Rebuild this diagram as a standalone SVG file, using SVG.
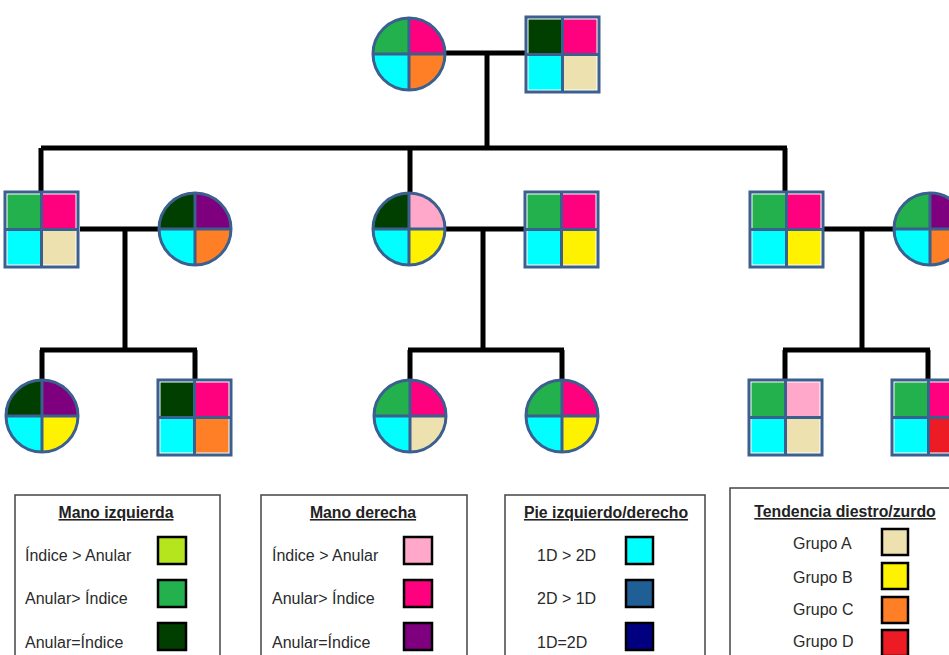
<svg xmlns="http://www.w3.org/2000/svg" width="949" height="655" viewBox="0 0 949 655">
<style>
.ln{stroke:#000;stroke-width:5;fill:none;stroke-linecap:butt}
.ob{fill:none;stroke:#3B5F8E;stroke-width:3}
.gap{stroke:#fff;stroke-width:1}
.gr{fill:#22B14C}.pk{fill:#FF007F}.cy{fill:#00FFFF}.bg{fill:#EEE1B0}.dg{fill:#003F00}.pu{fill:#7F007F}.or{fill:#FF7F27}.ye{fill:#FFF200}.lp{fill:#FFA8C9}.rd{fill:#ED1C24}.li{fill:#B5E61D}.sb{fill:#1F5F95}.nv{fill:#000080}
.box{fill:#fff;stroke:#444;stroke-width:1.5}
.sw{stroke:#000;stroke-width:2.5}
.tt{font-family:"Liberation Sans",Arial,sans-serif;font-size:15.8px;font-weight:bold;fill:#222;text-anchor:middle;text-decoration:underline}
.tx{font-family:"Liberation Sans",Arial,sans-serif;font-size:16px;fill:#2a2a2a}
</style>
<rect width="949" height="655" fill="#fff"/>
<g id="connectors">
<path class="ln" d="M445,53H526M487,53V148M41,148H787M41,148V192M410,148V192M785,148V192"/>
<path class="ln" d="M80,229H158M125,229V350M40,350H197M42,350V380M195,350V380"/>
<path class="ln" d="M445,229H525M483,229V350M408,350H564M410,350V380M562,350V380"/>
<path class="ln" d="M822,229H893M862,229V350M783,350H930M785,350V380M928,350V380"/>
</g>
<g id="n-top-f" transform="translate(409,54)">
<path class="gr gap" d="M0,0V-36A36,36 0 0 0 -36,0Z"/><path class="pk gap" d="M0,0V-36A36,36 0 0 1 36,0Z"/><path class="cy gap" d="M0,0H-36A36,36 0 0 0 0,36Z"/><path class="or gap" d="M0,0H36A36,36 0 0 1 0,36Z"/>
<path class="ob" d="M-36,0H36M0,-36V36"/><circle class="ob" r="36"/>
</g>
<g id="n-top-m" transform="translate(526,17)">
<rect class="dg gap" x="2" y="2" width="34" height="35"/><rect class="pk gap" x="37" y="2" width="34" height="35"/><rect class="cy gap" x="2" y="38" width="34" height="35"/><rect class="bg gap" x="37" y="38" width="34" height="35"/>
<path class="ob" d="M36.5,0V75M0,37.5H73"/><rect class="ob" x="0" y="0" width="73" height="75"/>
</g>
<g id="n-r2-1" transform="translate(5,192)">
<rect class="gr gap" x="2" y="2" width="34" height="35"/><rect class="pk gap" x="37" y="2" width="34" height="35"/><rect class="cy gap" x="2" y="38" width="34" height="35"/><rect class="bg gap" x="37" y="38" width="34" height="35"/>
<path class="ob" d="M36.5,0V75M0,37.5H73"/><rect class="ob" x="0" y="0" width="73" height="75"/>
</g>
<g id="n-r2-2" transform="translate(195,229)">
<path class="dg gap" d="M0,0V-36A36,36 0 0 0 -36,0Z"/><path class="pu gap" d="M0,0V-36A36,36 0 0 1 36,0Z"/><path class="cy gap" d="M0,0H-36A36,36 0 0 0 0,36Z"/><path class="or gap" d="M0,0H36A36,36 0 0 1 0,36Z"/>
<path class="ob" d="M-36,0H36M0,-36V36"/><circle class="ob" r="36"/>
</g>
<g id="n-r2-3" transform="translate(409,229)">
<path class="dg gap" d="M0,0V-36A36,36 0 0 0 -36,0Z"/><path class="lp gap" d="M0,0V-36A36,36 0 0 1 36,0Z"/><path class="cy gap" d="M0,0H-36A36,36 0 0 0 0,36Z"/><path class="ye gap" d="M0,0H36A36,36 0 0 1 0,36Z"/>
<path class="ob" d="M-36,0H36M0,-36V36"/><circle class="ob" r="36"/>
</g>
<g id="n-r2-4" transform="translate(525,192)">
<rect class="gr gap" x="2" y="2" width="34" height="35"/><rect class="pk gap" x="37" y="2" width="34" height="35"/><rect class="cy gap" x="2" y="38" width="34" height="35"/><rect class="ye gap" x="37" y="38" width="34" height="35"/>
<path class="ob" d="M36.5,0V75M0,37.5H73"/><rect class="ob" x="0" y="0" width="73" height="75"/>
</g>
<g id="n-r2-5" transform="translate(750,192)">
<rect class="gr gap" x="2" y="2" width="34" height="35"/><rect class="pk gap" x="37" y="2" width="34" height="35"/><rect class="cy gap" x="2" y="38" width="34" height="35"/><rect class="ye gap" x="37" y="38" width="34" height="35"/>
<path class="ob" d="M36.5,0V75M0,37.5H73"/><rect class="ob" x="0" y="0" width="73" height="75"/>
</g>
<g id="n-r2-6" transform="translate(930,229)">
<path class="gr gap" d="M0,0V-36A36,36 0 0 0 -36,0Z"/><path class="pu gap" d="M0,0V-36A36,36 0 0 1 36,0Z"/><path class="cy gap" d="M0,0H-36A36,36 0 0 0 0,36Z"/><path class="or gap" d="M0,0H36A36,36 0 0 1 0,36Z"/>
<path class="ob" d="M-36,0H36M0,-36V36"/><circle class="ob" r="36"/>
</g>
<g id="n-r3-1" transform="translate(42,416)">
<path class="dg gap" d="M0,0V-36A36,36 0 0 0 -36,0Z"/><path class="pu gap" d="M0,0V-36A36,36 0 0 1 36,0Z"/><path class="cy gap" d="M0,0H-36A36,36 0 0 0 0,36Z"/><path class="ye gap" d="M0,0H36A36,36 0 0 1 0,36Z"/>
<path class="ob" d="M-36,0H36M0,-36V36"/><circle class="ob" r="36"/>
</g>
<g id="n-r3-2" transform="translate(158,380)">
<rect class="dg gap" x="2" y="2" width="34" height="35"/><rect class="pk gap" x="37" y="2" width="34" height="35"/><rect class="cy gap" x="2" y="38" width="34" height="35"/><rect class="or gap" x="37" y="38" width="34" height="35"/>
<path class="ob" d="M36.5,0V75M0,37.5H73"/><rect class="ob" x="0" y="0" width="73" height="75"/>
</g>
<g id="n-r3-3" transform="translate(410,416)">
<path class="gr gap" d="M0,0V-36A36,36 0 0 0 -36,0Z"/><path class="pk gap" d="M0,0V-36A36,36 0 0 1 36,0Z"/><path class="cy gap" d="M0,0H-36A36,36 0 0 0 0,36Z"/><path class="bg gap" d="M0,0H36A36,36 0 0 1 0,36Z"/>
<path class="ob" d="M-36,0H36M0,-36V36"/><circle class="ob" r="36"/>
</g>
<g id="n-r3-4" transform="translate(562,416)">
<path class="gr gap" d="M0,0V-36A36,36 0 0 0 -36,0Z"/><path class="pk gap" d="M0,0V-36A36,36 0 0 1 36,0Z"/><path class="cy gap" d="M0,0H-36A36,36 0 0 0 0,36Z"/><path class="ye gap" d="M0,0H36A36,36 0 0 1 0,36Z"/>
<path class="ob" d="M-36,0H36M0,-36V36"/><circle class="ob" r="36"/>
</g>
<g id="n-r3-5" transform="translate(749,380)">
<rect class="gr gap" x="2" y="2" width="34" height="35"/><rect class="lp gap" x="37" y="2" width="34" height="35"/><rect class="cy gap" x="2" y="38" width="34" height="35"/><rect class="bg gap" x="37" y="38" width="34" height="35"/>
<path class="ob" d="M36.5,0V75M0,37.5H73"/><rect class="ob" x="0" y="0" width="73" height="75"/>
</g>
<g id="n-r3-6" transform="translate(892,380)">
<rect class="gr gap" x="2" y="2" width="34" height="35"/><rect class="pk gap" x="37" y="2" width="34" height="35"/><rect class="cy gap" x="2" y="38" width="34" height="35"/><rect class="rd gap" x="37" y="38" width="34" height="35"/>
<path class="ob" d="M36.5,0V75M0,37.5H73"/><rect class="ob" x="0" y="0" width="73" height="75"/>
</g>
<g id="legend-izq">
<rect class="box" x="15" y="495" width="205" height="170"/>
<text class="tt" x="116" y="518">Mano izquierda</text>
<text class="tx" x="25" y="561">Índice &gt; Anular</text>
<text class="tx" x="25" y="604">Anular&gt; Índice</text>
<text class="tx" x="25" y="648">Anular=Índice</text>
<rect class="sw li" x="158" y="537" width="28" height="27"/>
<rect class="sw gr" x="158" y="580" width="28" height="27"/>
<rect class="sw dg" x="158" y="623" width="28" height="27"/>
</g>
<g id="legend-der">
<rect class="box" x="261" y="495" width="206" height="170"/>
<text class="tt" x="363" y="518">Mano derecha</text>
<text class="tx" x="272" y="561">Índice &gt; Anular</text>
<text class="tx" x="272" y="604">Anular&gt; Índice</text>
<text class="tx" x="272" y="648">Anular=Índice</text>
<rect class="sw lp" x="404" y="537" width="28" height="27"/>
<rect class="sw pk" x="404" y="580" width="28" height="27"/>
<rect class="sw pu" x="404" y="623" width="28" height="27"/>
</g>
<g id="legend-pie">
<rect class="box" x="505" y="495" width="200" height="170"/>
<text class="tt" x="606" y="518">Pie izquierdo/derecho</text>
<text class="tx" x="537" y="561">1D &gt; 2D</text>
<text class="tx" x="537" y="604">2D &gt; 1D</text>
<text class="tx" x="537" y="648">1D=2D</text>
<rect class="sw cy" x="626" y="537" width="27" height="27"/>
<rect class="sw sb" x="626" y="580" width="27" height="27"/>
<rect class="sw nv" x="626" y="623" width="27" height="27"/>
</g>
<g id="legend-tend">
<rect class="box" x="730" y="488" width="240" height="180"/>
<text class="tt" x="845" y="517">Tendencia diestro/zurdo</text>
<text class="tx" x="793" y="549">Grupo A</text>
<text class="tx" x="793" y="583">Grupo B</text>
<text class="tx" x="793" y="615">Grupo C</text>
<text class="tx" x="793" y="647">Grupo D</text>
<rect class="sw bg" x="882" y="529" width="26" height="26"/>
<rect class="sw ye" x="882" y="563" width="26" height="26"/>
<rect class="sw or" x="882" y="597" width="26" height="26"/>
<rect class="sw rd" x="882" y="630" width="26" height="26"/>
</g>
</svg>
